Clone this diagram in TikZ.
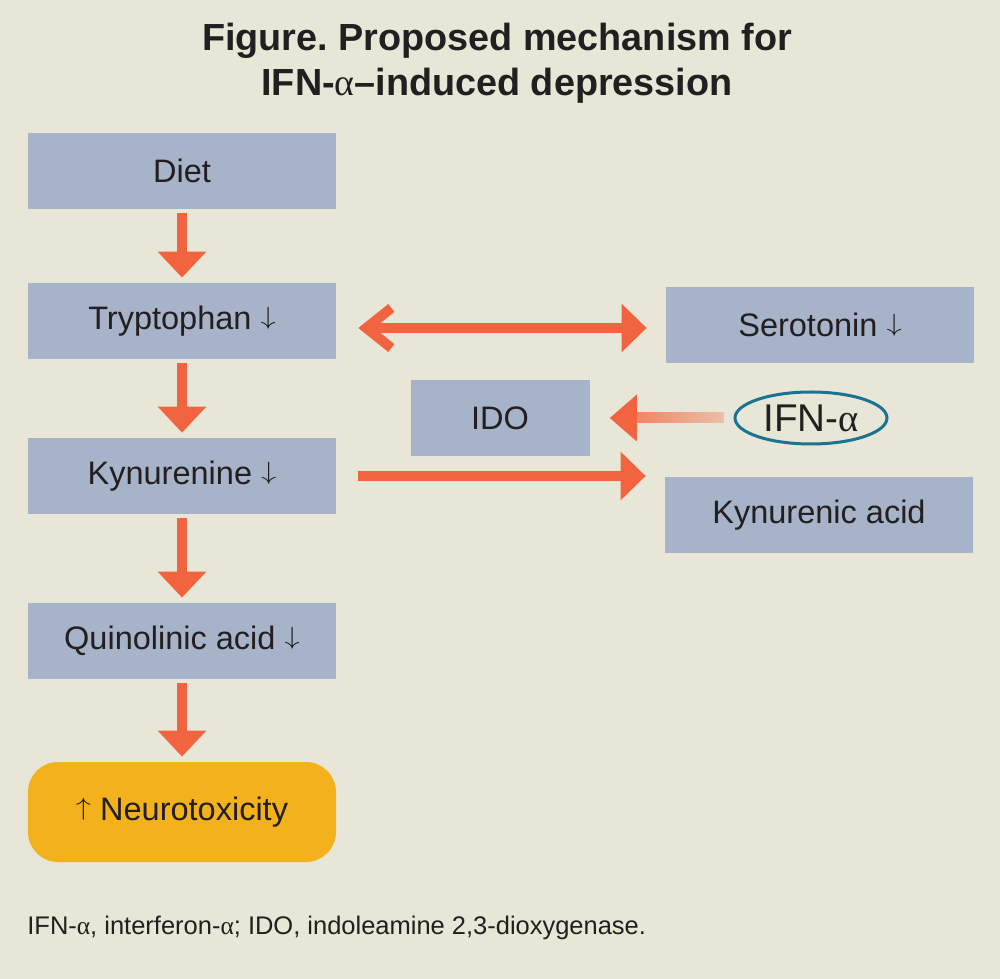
\documentclass[tikz,border=0pt]{standalone}
\usepackage{graphicx}
\usepackage{fontspec}
\setmainfont{Liberation Sans}
\newfontfamily\alphafont{Liberation Serif}
\usetikzlibrary{calc,arrows.meta,shapes.geometric}
\definecolor{figBg}{RGB}{232,230,214}
\definecolor{figBox}{RGB}{166,179,200}
\definecolor{figArrow}{RGB}{242,100,64}
\definecolor{figGold}{RGB}{243,178,28}
\definecolor{figTeal}{RGB}{27,115,145}
\definecolor{figInk}{RGB}{35,31,32}
\newcommand{\alf}{{\alphafont α}}
\newcommand{\dnarr}{\raisebox{0.16em}{\scalebox{1}[0.82]{$\downarrow$}}}
\newcommand{\uparr}{\raisebox{0.16em}{\scalebox{1}[0.82]{$\uparrow$}}}

\begin{document}
\frenchspacing
\begin{tikzpicture}[x=0.2mm, y=-0.2mm,
  box/.style={fill=figBox, text=figInk, minimum width=61.6mm, minimum height=15.2mm, inner sep=0pt, font=\fontsize{18.5}{22}\selectfont},
  flow/.style={figArrow, line width=2mm, -{Triangle[length=5.2mm, width=9.4mm]}}]
\useasboundingbox (0,0) rectangle (1000,979);
\fill[figBg] (0,0) rectangle (1000,979);

\node[text=figInk, font=\bfseries\fontsize{21.5}{25.5}\selectfont, align=center] (title) at (497,63) {Figure. Proposed mechanism for\\IFN-{\mdseries\alf}–induced depression};

% main chain
\node[box] (diet) at (182,171) {Diet};
\node[box] (tryp) at (182,321) {Tryptophan \dnarr};
\node[box] (kyn) at (182,476) {Kynurenine \dnarr};
\node[box] (quin) at (182,641) {Quinolinic acid \dnarr};
\node[box, fill=figGold, minimum height=20mm, rounded corners=6mm] (neuro) at (182,812) {\uparr\ Neurotoxicity};

% right column
\node[box] (sero) at (820,325) {Serotonin \dnarr};
\node[box, minimum width=35.8mm] (ido) at (500,418) {IDO};
\node[box] (kyna) at (819,515) {Kynurenic acid};
\node[ellipse, draw=figTeal, line width=0.6mm, minimum width=30.4mm, minimum height=10.4mm, inner sep=0pt, text=figInk, font=\fontsize{22}{26}\selectfont] (ifn) at (811,418) {IFN-\alf};

\draw[flow, shorten <=0.8mm, shorten >=1mm] (diet) -- (tryp);
\draw[flow, shorten <=0.8mm, shorten >=1mm] (tryp) -- (kyn);
\draw[flow, shorten <=0.8mm, shorten >=1mm] (kyn) -- (quin);
\draw[flow, shorten <=0.8mm, shorten >=1mm] (quin) -- (neuro);

\coordinate (trypR) at ([yshift=-1.4mm]tryp.east);
\draw[flow, {Straight Barb[length=5mm, width=8mm, line join=miter, line cap=butt]}-{Triangle[length=5mm, width=9.4mm]}, shorten <=4.4mm, shorten >=3.8mm] (trypR) -- (trypR -| sero.west);
\draw[flow, -{Triangle[length=5mm, width=9.4mm]}, shorten <=4.4mm, shorten >=3.8mm] (kyn.east) -- (kyn.east -| kyna.west);

% fading arrow from IFN to IDO
\coordinate (ifnTip) at ($(ido.east)+(20,0)$);
\coordinate (ifnTail) at ($(ifn.west)+(-10,0)$);
\shade[left color=figArrow!75!figBg, right color=figArrow!30!figBg] ($(ifnTip)+(25,-5)$) rectangle ($(ifnTail)+(0,5)$);
\fill[figArrow] (ifnTip) -- ++(27,-23.5) -- ++(0,47) -- cycle;

\node[anchor=west, text=figInk, font=\fontsize{14.5}{17}\selectfont, inner sep=0pt] (note) at (27,928) {IFN-\alf, interferon-\alf; IDO, indoleamine 2,3-dioxygenase.};
\end{tikzpicture}
\end{document}
